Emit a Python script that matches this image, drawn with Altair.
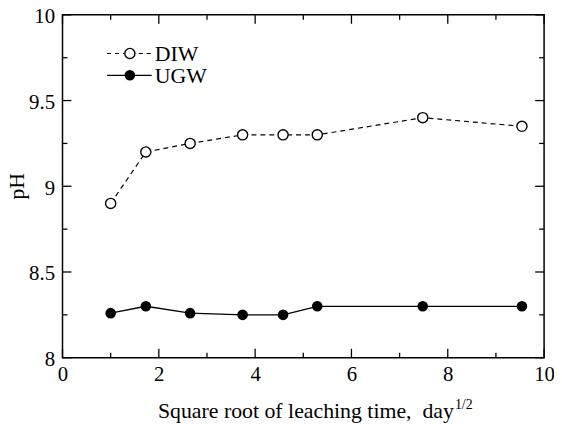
import altair as alt
import pandas as pd

# ---- data ----
x_vals = [1.0, 1.73, 2.65, 3.74, 4.58, 5.29, 7.48, 9.54]
diw_ph = [8.90, 9.20, 9.25, 9.30, 9.30, 9.30, 9.40, 9.35]
ugw_ph = [8.26, 8.30, 8.26, 8.25, 8.25, 8.30, 8.30, 8.30]
series = ["DIW", "UGW"]
x_major = [0, 2, 4, 6, 8, 10]
x_minor = [1, 3, 5, 7, 9]
y_major = [8, 8.5, 9, 9.5, 10]
y_minor = [8.25, 8.75, 9.25, 9.75]
x_title = "Square root of leaching time,\u00a0 day"
x_title_sup = "1/2"
y_title = "pH"

# ---- layout / style ----
W, H = 486, 346
FONT = "Liberation Serif"
MAJ, MIN = 9, 5

xs = alt.Scale(domain=[0, 10], nice=False, zero=False)
ys = alt.Scale(domain=[8, 10], nice=False, zero=False)

axis_common = dict(ticks=False, domain=False, grid=False, labelFont=FONT,
                   labelFontSize=21, labelColor="black", title=None,
                   labelFlush=False, labelOverlap=False,
                   labelExpr="'' + datum.value")
x_axis = alt.Axis(values=x_major, labelPadding=6, **axis_common)
y_axis = alt.Axis(values=y_major, labelPadding=8, labelOffset=2, **axis_common)
X = alt.X("x:Q", scale=xs, axis=x_axis)
Y = alt.Y("pH:Q", scale=ys, axis=y_axis)

diw = pd.DataFrame({"x": x_vals, "pH": diw_ph})
ugw = pd.DataFrame({"x": x_vals, "pH": ugw_ph})

diw_line = alt.Chart(diw).mark_line(color="black", strokeDash=[5, 4], strokeWidth=1.2).encode(x=X, y=Y)
ugw_line = alt.Chart(ugw).mark_line(color="black", strokeWidth=1.3).encode(x=X, y=Y)
diw_pts = alt.Chart(diw).mark_point(shape="circle", filled=True, fill="white", stroke="black",
                                    strokeWidth=1.4, size=105, opacity=1).encode(x=X, y=Y)
ugw_pts = alt.Chart(ugw).mark_point(shape="circle", filled=True, color="black",
                                    size=115, opacity=1).encode(x=X, y=Y)


def xticks(values, length):
    d = pd.DataFrame({"x": values})
    m = dict(color="black", strokeWidth=1.3)
    bottom = alt.Chart(d).mark_rule(**m).encode(x=X, y=alt.value(H), y2=alt.value(H - length))
    top = alt.Chart(d).mark_rule(**m).encode(x=X, y=alt.value(0), y2=alt.value(length))
    return [bottom, top]


def yticks(values, length):
    d = pd.DataFrame({"pH": values})
    m = dict(color="black", strokeWidth=1.3)
    left = alt.Chart(d).mark_rule(**m).encode(y=Y, x=alt.value(0), x2=alt.value(length))
    right = alt.Chart(d).mark_rule(**m).encode(y=Y, x=alt.value(W), x2=alt.value(W - length))
    return [left, right]


tick_layers = xticks(x_major, MAJ) + xticks(x_minor, MIN) + yticks(y_major, MAJ) + yticks(y_minor, MIN)

# axis titles
TITLE_END = 395
xt = alt.Chart(pd.DataFrame({"t": [x_title]})).mark_text(
    font=FONT, fontSize=22, align="right", baseline="alphabetic", color="black"
).encode(x=alt.value(TITLE_END), y=alt.value(H + 61), text="t:N")
xt_sup = alt.Chart(pd.DataFrame({"t": [x_title_sup]})).mark_text(
    font=FONT, fontSize=14, align="left", baseline="alphabetic", color="black"
).encode(x=alt.value(TITLE_END + 1), y=alt.value(H + 52), text="t:N")
yt = alt.Chart(pd.DataFrame({"t": [y_title]})).mark_text(
    font=FONT, fontSize=22, align="center", baseline="alphabetic", angle=270, color="black"
).encode(x=alt.value(-39), y=alt.value(H / 2), text="t:N")

# legend (inside, top-left)
leg_layers = []
rows = [39, 61]
for i, name in enumerate(series):
    yy = rows[i]
    d = pd.DataFrame({"t": [name]})
    rule_kw = dict(color="black", strokeWidth=1.2 if i == 0 else 1.3)
    if i == 0:
        rule_kw["strokeDash"] = [4, 4]
    leg_layers.append(alt.Chart(d).mark_rule(**rule_kw).encode(
        x=alt.value(45), x2=alt.value(90), y=alt.value(yy)))
    if i == 0:
        pt = alt.Chart(d).mark_point(shape="circle", filled=True, fill="white", stroke="black",
                                     strokeWidth=1.4, size=105, opacity=1)
    else:
        pt = alt.Chart(d).mark_point(shape="circle", filled=True, color="black", size=115, opacity=1)
    leg_layers.append(pt.encode(x=alt.value(68), y=alt.value(yy)))
    leg_layers.append(alt.Chart(d).mark_text(font=FONT, fontSize=22, align="left", baseline="middle",
                                             color="black").encode(
        x=alt.value(93), y=alt.value(yy + 1), text="t:N"))

chart = alt.layer(
    diw_line, ugw_line, diw_pts, ugw_pts, *tick_layers, xt, xt_sup, yt, *leg_layers
).properties(
    width=W, height=H,
    background="white",
    autosize=alt.AutoSizeParams(type="none"),
    padding={"left": 55, "top": 5, "right": 10, "bottom": 66},
).configure_view(stroke="black", strokeWidth=1.5)

chart.save("out.html", embed_options={"renderer": "svg", "actions": False})
